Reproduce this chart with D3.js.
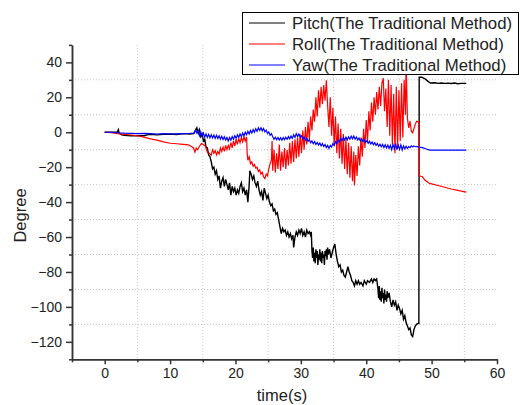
<!DOCTYPE html>
<html>
<head>
<meta charset="utf-8">
<script src="https://cdn.jsdelivr.net/npm/d3@7"></script>
<style>
  body { margin: 0; background: #fff; }
  text { font-family: "Liberation Sans", Arial, sans-serif; fill: #222; }
</style>
</head>
<body>
<svg id="chart" width="521" height="405"></svg>
<script>
// series values, [time(s), degree]
var pitch = [[0,0],[1,0],[1.9,0],[2.1,1.5],[2.2,-0.5],[2.6,-1.5],[3,-1.8],[4,-2],[5,-2],[6,-2],[6.5,-1.5],[7,-1.2],[8,-1.5],[9,-1.2],[10,-1],[11,-1.3],[12,-0.8],[13,-1],[13.6,-0.8],
  [13.9,1],[14.1,2.5],[14.3,-0.5],[14.5,1.5],[14.7,-2.5],[14.9,-1],[15.1,-5],[15.3,-4],[15.5,-8.5],[15.7,-9],[15.9,-13],[16.1,-14],[16.3,-17],[16.5,-21],[16.7,-20],[16.9,-24],
  [17.1,-22],[17.3,-27],[17.5,-25],[17.7,-32],[17.9,-28],[18.1,-26],[18.3,-31],[18.5,-27],[18.7,-30],[18.9,-33],[19.1,-29],[19.3,-36],[19.5,-31],[19.7,-34],[19.9,-32],
  [20.1,-36],[20.3,-33],[20.5,-35],[20.7,-31],[20.9,-29],[21.1,-34],[21.3,-32],[21.5,-36],[21.7,-33],[21.9,-40],[22.1,-30],[22.2,-22],[22.4,-24],[22.6,-27],[22.8,-25],
  [23,-29],[23.2,-31],[23.4,-28],[23.6,-33],[23.8,-36],[24,-34],[24.2,-39],[24.4,-32],[24.6,-35],[24.8,-38],[25,-36],[25.2,-40],[25.4,-42],[25.6,-41],[25.8,-45],
  [26,-44],[26.2,-47],[26.4,-46],[26.6,-50],[26.8,-54],[27,-58],[27.2,-55],[27.4,-57],[27.6,-56],[27.8,-59],[28,-57],[28.2,-60],[28.4,-58],[28.6,-61],[28.8,-59],
  [28.9,-66],[29.1,-60],[29.3,-57],[29.5,-59],[29.7,-56],[29.9,-58],[30.1,-55],[30.3,-59],[30.5,-57],[30.7,-60],[30.9,-56],[31.1,-58],[31.3,-57],[31.5,-59],[31.6,-57],
  [31.7,-68],[31.8,-72],[31.9,-66],[32,-74],[32.1,-69],[32.2,-75],[32.3,-67],[32.4,-72],[32.5,-68],[32.6,-76],[32.7,-70],[32.8,-73],[32.9,-67],[33,-74],[33.1,-69],
  [33.2,-75],[33.3,-68],[33.4,-72],[33.5,-70],[33.6,-76],[33.7,-68],[33.8,-71],[33.9,-67],[34,-73],[34.1,-66],[34.2,-70],[34.4,-67],[34.6,-72],[34.8,-69],[35,-66],
  [35.2,-64],[35.4,-70],[35.6,-74],[35.8,-77],[36,-76],[36.2,-80],[36.4,-79],[36.6,-82],[36.8,-83],[37,-80],[37.2,-77],[37.4,-80],[37.6,-82],[37.8,-85],[38,-86],
  [38.2,-88],[38.4,-85],[38.6,-87],[38.8,-85],[39,-87],[39.2,-86],[39.5,-88],[39.7,-85],[40,-87],[40.2,-85],[40.5,-86],[40.8,-84],[41,-86],[41.2,-84],[41.4,-85],
  [41.6,-84],[41.8,-90],[41.9,-95],[42,-88],[42.1,-96],[42.2,-91],[42.3,-97],[42.4,-89],[42.5,-95],[42.6,-92],[42.7,-98],[42.8,-90],[42.9,-96],[43,-93],[43.1,-97],
  [43.2,-91],[43.3,-95],[43.5,-92],[43.7,-97],[43.9,-100],[44.1,-96],[44.3,-99],[44.5,-97],[44.7,-102],[44.9,-99],[45.1,-101],[45.3,-104],[45.5,-102],[45.7,-107],
  [45.9,-105],[46.1,-109],[46.3,-111],[46.5,-113],[46.7,-112],[46.9,-116],[47.1,-117],[47.3,-113],[47.5,-111],[47.7,-110],[47.9,-109.5],[48.05,-109.5],
  [48.1,31.5],[48.5,31.5],[49,30.5],[49.5,29],[49.8,28.2],[50.5,28.3],[51,28],[51.5,28.2],[52,28],[52.5,28.1],[53,27.9],[53.5,28.2],[54,27.8],[54.5,28],[55.3,28]];

var roll = [[0,0],[1,-0.3],[2,-0.8],[3,-1.2],[4,-1.6],[5,-2],[6,-2.8],[7,-3.8],[8,-4.5],[9,-5.5],[10,-6.3],[11,-6.6],[12,-6.9],[12.8,-7.2],[13.2,-8],[13.6,-9],
  [13.8,-11.3],[14,-9],[14.2,-10],[14.5,-8],[14.8,-6.5],[15.1,-7],[15.4,-8],[15.7,-11.5],[16,-12],[16.3,-13.2],[16.5,-10],[16.7,-12],[16.9,-10.5],[17.1,-13],
  [17.3,-11],[17.5,-12.5],[17.7,-9],[17.9,-11],[18.1,-8.5],[18.3,-11],[18.5,-7.5],[18.7,-10],[18.9,-7.5],[19.1,-9.5],[19.3,-6],[19.5,-9],[19.7,-5],[19.9,-8],
  [20.1,-4],[20.3,-7],[20.5,-3.5],[20.7,-6],[20.9,-3],[21.1,-5.5],[21.3,-2.5],[21.5,-5],[21.7,-2.7],[21.8,-13],[21.9,-16],[22.1,-14],[22.3,-18],[22.5,-17],
  [22.7,-19.5],[22.9,-18.5],[23.1,-20.5],[23.3,-20],[23.5,-22.5],[23.7,-21.5],[23.9,-24],[24.1,-23],[24.3,-25.5],[24.5,-26.6],[24.7,-24],[24.9,-25],[25.1,-21],
  [25.3,-18],[25.5,-16],[25.6,-5],[25.7,-22],[25.9,-10],[26.1,-23],[26.3,-12],[26.5,-21],[26.7,-7],[26.9,-22],[27.1,-11],[27.3,-20],[27.5,-9],[27.7,-21],[27.9,-10],
  [28.1,-19],[28.3,-6],[28.5,-18],[28.7,-5],[28.9,-17],[29.1,-4],[29.3,-15],[29.5,-3],[29.7,-14],[29.9,-1],[30.1,-12],[30.3,1],[30.5,-10],[30.7,3],[30.9,-7],
  [31.1,6],[31.3,-4],[31.5,9],[31.7,1],[31.9,13],[32.1,6],[32.3,20],[32.5,9],[32.7,24],[32.9,14],[33.1,26],[33.3,16],[33.5,27],[33.7,18],[33.9,29.8],[34.1,15],
  [34.3,3],[34.5,20],[34.7,-2],[34.9,14],[35.1,-8],[35.3,9],[35.5,-12],[35.7,5],[35.9,-15],[36.1,2],[36.3,-18],[36.5,-1],[36.7,-21],[36.9,-4],[37.1,-24],[37.3,-6],
  [37.5,-26],[37.7,-8],[37.9,-28],[38.1,-11],[38.2,-30.5],[38.4,-13],[38.6,-25],[38.8,-8],[39,-19],[39.2,-3],[39.4,-14],[39.6,2],[39.8,-9],[40,7],[40.2,-5],
  [40.4,12],[40.6,1],[40.8,17],[41,6],[41.2,20],[41.4,10],[41.6,23],[41.8,13],[42,26],[42.2,15],[42.4,28],[42.6,31],[42.8,12],[43,25],[43.2,3],[43.4,30],[43.6,-2],
  [43.8,27],[44,-7],[44.2,22],[44.4,-12],[44.6,26],[44.8,-9],[45,24],[45.2,-5],[45.4,28],[45.6,-3],[45.8,30],[46,10],[46.1,40],[46.3,8],[46.5,2.5],[46.7,6.3],
  [46.9,0.6],[47.1,-0.3],[47.3,2],[47.5,4.5],[47.7,6.3],[47.9,6],[48.05,5.5],[48.1,-25],[48.6,-25.5],[49,-27.5],[49.7,-29.3],[51,-30.5],[52,-31.5],[53,-32.5],
  [54,-33.3],[55.3,-34.3]];

var yaw = [[0,0],[1,0],[2,-0.3],[3,-0.5],[4,-0.6],[5,-0.8],[6,-0.7],[7,-0.8],[8,-1],[9,-0.8],[10,-1],[11,-0.9],[12,-0.8],[13,-0.7],[13.7,-0.5],[13.9,1.5],
  [14.1,-0.5],[14.3,1],[14.5,-2],[14.7,0],[14.9,-2.5],[15.1,-0.5],[15.3,-2.8],[15.5,-1],[15.7,-3],[15.9,-1.2],[16.1,-3.2],[16.3,-1.5],[16.5,-3.3],[16.7,-1.6],
  [16.9,-3.5],[17.1,-1.8],[17.3,-3.6],[17.5,-2],[17.7,-4],[17.9,-2.3],[18.1,-4.2],[18.3,-2.6],[18.5,-4.5],[18.7,-3],[18.9,-5],[19.1,-3],[19.3,-4.6],[19.5,-2.5],
  [19.7,-4],[19.9,-2],[20.1,-3.5],[20.3,-1.5],[20.5,-3],[20.7,-1],[20.9,-2.5],[21.1,-0.5],[21.3,-2],[21.5,0],[21.7,-1.5],[21.9,0.5],[22.1,-1],[22.3,1],[22.5,-0.5],
  [22.7,1.5],[22.9,0],[23.1,2],[23.3,0.5],[23.5,2.5],[23.7,1],[23.9,2.6],[24.1,0.8],[24.3,2.2],[24.5,0.2],[24.7,1.2],[24.9,-0.8],[25.1,0.2],[25.3,-1.8],[25.5,-0.8],
  [25.7,-2.6],[25.9,-4],[26.1,-2.8],[26.3,-4.3],[26.5,-3],[26.7,-4.5],[26.9,-3.2],[27.1,-4.6],[27.3,-3],[27.5,-4.3],[27.7,-2.8],[27.9,-4],[28.1,-2.5],[28.3,-3.8],
  [28.5,-2.2],[28.7,-3.5],[28.9,-1.5],[29.1,-3],[29.3,-0.8],[29.5,-2.5],[29.7,-1],[29.9,-2.8],[30.1,-2],[30.3,-3.8],[30.5,-2.8],[30.7,-4.5],[30.9,-3.5],[31.1,-5.2],
  [31.3,-4.3],[31.5,-6],[31.7,-5],[31.9,-6.6],[32.1,-5.3],[32.3,-7],[32.5,-5.8],[32.7,-7.3],[32.9,-6.2],[33.1,-7.8],[33.3,-6.5],[33.5,-8.2],[33.7,-7],[33.9,-8.8],
  [34.1,-7.5],[34.3,-9.3],[34.5,-7.5],[34.7,-8.5],[34.9,-6.5],[35.1,-7.5],[35.3,-5.5],[35.5,-6.5],[35.7,-4.5],[35.9,-5.5],[36.1,-3.5],[36.3,-4.8],[36.5,-3],
  [36.7,-4.5],[36.9,-2.8],[37.1,-4.3],[37.3,-2.6],[37.5,-4],[37.7,-2.3],[37.9,-3.8],[38.1,-2.2],[38.3,-4],[38.5,-2.8],[38.7,-4.5],[38.9,-3.3],[39.1,-5],[39.3,-3.8],
  [39.5,-5.3],[39.7,-4.2],[39.9,-5.8],[40.1,-4.8],[40.3,-6.3],[40.5,-5.2],[40.7,-6.8],[40.9,-5.6],[41.1,-7.2],[41.3,-6],[41.5,-7.5],[41.7,-6.4],[41.9,-8],[42.1,-6.8],
  [42.3,-8.3],[42.5,-7],[42.7,-8.8],[42.9,-7.2],[43.1,-9],[43.3,-7.3],[43.5,-9.3],[43.7,-7.5],[43.9,-10],[44.1,-7],[44.3,-9.5],[44.5,-6.5],[44.7,-10],[44.9,-7.5],
  [45.1,-9.8],[45.3,-7.2],[45.5,-10.2],[45.7,-7.8],[45.9,-9.5],[46.1,-8],[46.3,-9.3],[46.5,-8.2],[46.7,-8.8],[46.9,-7.8],[47.1,-8.4],[47.3,-7.9],[47.5,-8.3],
  [47.8,-8.2],[48.1,-8.5],[48.6,-8.8],[49.2,-9.6],[49.7,-10.2],[51,-10.3],[52,-10.2],[53,-10.3],[54,-10.2],[55.3,-10.3]];

var seriesNames = ['Pitch(The Traditional Method)', 'Roll(The Traditional Method)', 'Yaw(The Traditional Method)'];
var xMajor = [0, 10, 20, 30, 40, 50, 60];
var xMinor = [-5, 5, 15, 25, 35, 45, 55];
var yMajor = [40, 20, 0, -20, -40, -60, -80, -100, -120];
var yMinor = [50, 30, 10, -10, -30, -50, -70, -90, -110, -130];

var svg = d3.select('#chart');
var colors = ['#000000', '#ff0000', '#0000ff'];
var widths = [1.4, 1.2, 1.2];

var x = d3.scaleLinear().domain([-5, 60]).range([72, 497]);
var y = d3.scaleLinear().domain([-130, 50]).range([359.3, 44.9]);

// dotted grid sits on the minor ticks
var grid = svg.append('g').attr('stroke', '#c4c4c4').attr('stroke-dasharray', '1,2');
grid.selectAll('line.gx')
    .data(xMinor.filter(d => d > -5))
    .enter().append('line')
    .attr('x1', d => x(d)).attr('x2', d => x(d))
    .attr('y1', y(50)).attr('y2', y(-130));
grid.selectAll('line.gy')
    .data(yMinor.filter(d => d > -130 && d < 50))
    .enter().append('line')
    .attr('x1', x(-5)).attr('x2', x(60))
    .attr('y1', d => y(d)).attr('y2', d => y(d));

var line = d3.line().x(d => x(d[0])).y(d => y(d[1]));
[pitch, roll, yaw].forEach(function (s, i) {
    svg.append('path')
        .datum(s)
        .attr('d', line)
        .attr('fill', 'none')
        .attr('stroke', colors[i])
        .attr('stroke-width', widths[i]);
});

// axes
function styleAxis(g) {
    g.select('.domain').attr('stroke', '#333').attr('stroke-width', 1.5);
    g.selectAll('.tick line').attr('stroke', '#333').attr('stroke-width', 1.5);
    g.selectAll('.tick text').style('font-size', '14px').attr('fill', '#222');
}

svg.append('g')
    .attr('transform', 'translate(0,' + y(-130) + ')')
    .call(d3.axisBottom(x).tickValues(xMinor).tickSize(3).tickFormat('').tickSizeOuter(0))
    .call(styleAxis);
svg.append('g')
    .attr('transform', 'translate(0,' + y(-130) + ')')
    .call(d3.axisBottom(x).tickValues(xMajor).tickSize(5).tickPadding(4).tickSizeOuter(0))
    .call(styleAxis);

svg.append('g')
    .attr('transform', 'translate(' + x(-5) + ',0)')
    .call(d3.axisLeft(y).tickValues(yMinor).tickSize(3).tickFormat('').tickSizeOuter(0))
    .call(styleAxis);
svg.append('g')
    .attr('transform', 'translate(' + x(-5) + ',0)')
    .call(d3.axisLeft(y).tickValues(yMajor).tickSize(6).tickPadding(4).tickSizeOuter(0))
    .call(styleAxis);

svg.append('text')
    .attr('transform', 'translate(26,215.5) rotate(-90)')
    .attr('text-anchor', 'middle')
    .style('font-size', '16.5px')
    .text('Degree');

svg.append('text')
    .attr('x', 282).attr('y', 401)
    .attr('text-anchor', 'middle')
    .style('font-size', '16.5px')
    .text('time(s)');

// legend
var legend = svg.append('g');
legend.append('rect')
    .attr('x', 242.5).attr('y', 12.5)
    .attr('width', 276).attr('height', 62)
    .attr('fill', '#fff').attr('stroke', '#000').attr('stroke-width', 1);
seriesNames.forEach(function (name, i) {
    var cy = 23 + i * 21;
    legend.append('line')
        .attr('x1', 249).attr('x2', 285)
        .attr('y1', cy).attr('y2', cy)
        .attr('stroke', colors[i]).attr('stroke-width', 1);
    legend.append('text')
        .attr('x', 292).attr('y', cy + 6)
        .style('font-size', '16.8px')
        .text(name);
});
</script>
</body>
</html>
